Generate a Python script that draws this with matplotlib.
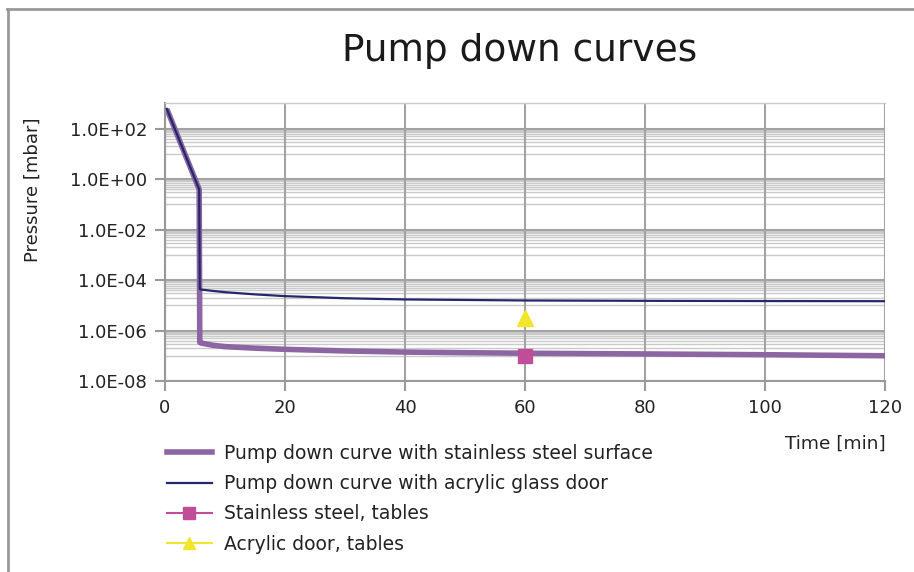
import numpy as np
import matplotlib
matplotlib.use("Agg")
import matplotlib.pyplot as plt
from matplotlib.lines import Line2D

plt.rcParams['font.family'] = ['DejaVu Sans']

# data
time_steel = [0.3, 5.7, 5.8, 6, 8, 10, 15, 20, 30, 40, 50, 60, 80, 100, 120]
p_steel = [600, 0.39, 3.4e-7, 3.2e-7, 2.6e-7, 2.3e-7, 2.0e-7, 1.8e-7, 1.55e-7,
           1.4e-7, 1.32e-7, 1.26e-7, 1.18e-7, 1.1e-7, 1.0e-7]

time_acryl = [0.3, 5.7, 5.8, 6, 8, 10, 15, 20, 30, 40, 60, 80, 100, 120]
p_acryl = [600, 0.39, 4.4e-5, 4.2e-5, 3.7e-5, 3.3e-5, 2.7e-5, 2.3e-5, 1.9e-5,
           1.7e-5, 1.55e-5, 1.5e-5, 1.47e-5, 1.45e-5]

table_time = [60]
table_steel = [9.5e-8]
table_acryl = [3.0e-6]

x_ticks = [0, 20, 40, 60, 80, 100, 120]
y_ticks = [1e-8, 1e-6, 1e-4, 1e-2, 1e0, 1e2]
y_labels = ["1.0E-08", "1.0E-06", "1.0E-04", "1.0E-02", "1.0E+00", "1.0E+02"]

c_steel = "#8b66a2"
c_acryl = "#24276a"
c_square = "#bf4d98"
c_tri = "#f3e52b"
c_text = "#222222"

fig = plt.figure(figsize=(9.14, 5.72), dpi=100)
ax = fig.add_axes([0.1805, 0.3339, 0.7878, 0.4855])

# minor grid (every value k*10^odd exponent, like Excel)
for e in [-7, -5, -3, -1, 1]:
    for k in range(1, 10):
        ax.axhline(k * 10.0**e, color="#cacaca", lw=1.0, zorder=0)
for v in y_ticks:
    ax.axhline(v, color="#a3a3a3", lw=1.5, zorder=0.5)
for v in x_ticks:
    ax.axvline(v, color="#a3a3a3", lw=1.5, zorder=0.5)

ax.plot(time_steel, p_steel, color=c_steel, lw=4, solid_capstyle="butt", zorder=2)
ax.plot(time_acryl, p_acryl, color=c_acryl, lw=1.6, zorder=3)
ax.plot(table_time, table_steel, "s", color=c_square, ms=10, zorder=4)
ax.plot(table_time, table_acryl, "^", color=c_tri, ms=11, zorder=4)

ax.set_yscale("log")
ax.set_xlim(0, 120)
ax.set_ylim(1e-8, 1e3)
ax.set_xticks(x_ticks)
ax.set_yticks(y_ticks)
ax.set_yticklabels(y_labels)
ax.minorticks_off()
ax.tick_params(axis="both", direction="out", length=7, width=1.5, color="#999999",
               labelsize=13, labelcolor=c_text, pad=6)

ax.spines["right"].set_visible(False)
ax.spines["top"].set_color("#cacaca")
ax.spines["top"].set_linewidth(1.0)
for s in ["left", "bottom"]:
    ax.spines[s].set_color("#999999")
    ax.spines[s].set_linewidth(1.5)

fig.text(0.568, 0.91, "Pump down curves", ha="center", va="center",
         fontsize=27, color="#1a1a1a")
fig.text(0.036, 0.668, "Pressure [mbar]", rotation=90, ha="center", va="center",
         fontsize=13, color=c_text)
fig.text(0.969, 0.225, "Time [min]", ha="right", va="center",
         fontsize=13.3, color=c_text)

handles = [
    Line2D([], [], color=c_steel, lw=4),
    Line2D([], [], color=c_acryl, lw=1.6),
    Line2D([], [], color=c_square, lw=1.5, marker="s", ms=9),
    Line2D([], [], color=c_tri, lw=1.5, marker="^", ms=9),
]
labels = ["Pump down curve with stainless steel surface",
          "Pump down curve with acrylic glass door",
          "Stainless steel, tables",
          "Acrylic door, tables"]
fig.legend(handles, labels, loc="upper left", bbox_to_anchor=(0.1745, 0.237),
           frameon=False, fontsize=13.5, handlelength=2.4, handletextpad=0.64,
           labelspacing=0.6, borderaxespad=0, labelcolor=c_text)

# outer frame lines (top and left only)
fig.add_artist(Line2D([7 / 914, 1.0], [1 - 9 / 572] * 2, color="#999999", lw=2))
fig.add_artist(Line2D([8 / 914] * 2, [0, 1 - 9 / 572], color="#999999", lw=2))

fig.savefig("out.png", dpi=100)
